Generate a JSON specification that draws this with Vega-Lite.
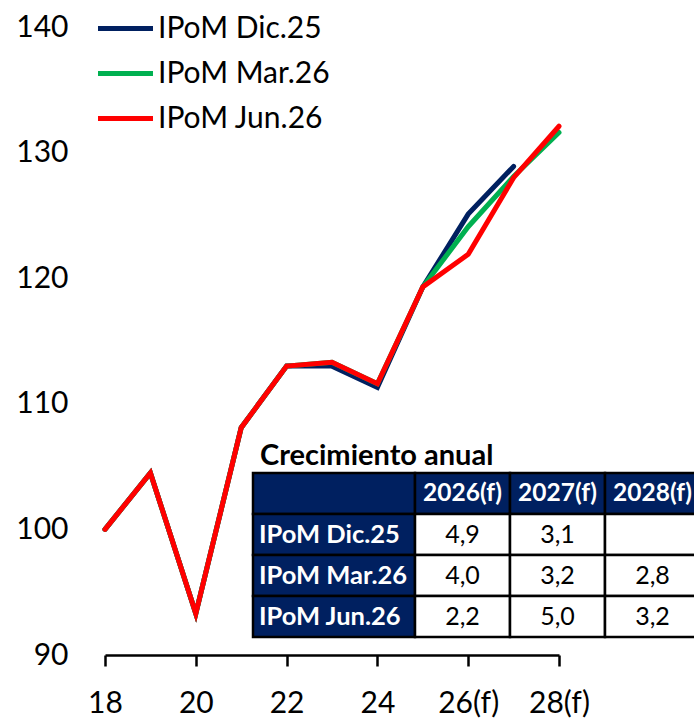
{
  "$schema": "https://vega.github.io/schema/vega-lite/v6.json",
  "autosize": {"type": "none"},
  "padding": {"left": 105, "top": 27, "right": 135, "bottom": 65},
  "width": 454,
  "height": 628,
  "background": "white",
  "config": {
    "view": {"stroke": null},
    "font": "Lato",
    "legend": {
      "orient": "none",
      "legendX": 4,
      "legendY": -15,
      "title": null,
      "labelFontSize": 30,
      "labelFont": "Lato",
      "labelColor": "black",
      "labelLimit": 400,
      "symbolType": "M-2,0H2",
      "symbolSize": 756,
      "symbolStrokeWidth": 5,
      "labelOffset": 16,
      "rowPadding": 13,
      "padding": 0
    }
  },
  "datasets": {
    "series": [
      {"serie": "IPoM Dic.25", "anio": 2018, "valor": 100.0},
      {"serie": "IPoM Dic.25", "anio": 2019, "valor": 104.5},
      {"serie": "IPoM Dic.25", "anio": 2020, "valor": 93.3},
      {"serie": "IPoM Dic.25", "anio": 2021, "valor": 108.1},
      {"serie": "IPoM Dic.25", "anio": 2022, "valor": 113.0},
      {"serie": "IPoM Dic.25", "anio": 2023, "valor": 113.0},
      {"serie": "IPoM Dic.25", "anio": 2024, "valor": 111.3},
      {"serie": "IPoM Dic.25", "anio": 2025, "valor": 119.3},
      {"serie": "IPoM Dic.25", "anio": 2026, "valor": 125.1},
      {"serie": "IPoM Dic.25", "anio": 2027, "valor": 128.9},
      {"serie": "IPoM Mar.26", "anio": 2018, "valor": 100.0},
      {"serie": "IPoM Mar.26", "anio": 2019, "valor": 104.5},
      {"serie": "IPoM Mar.26", "anio": 2020, "valor": 93.3},
      {"serie": "IPoM Mar.26", "anio": 2021, "valor": 108.1},
      {"serie": "IPoM Mar.26", "anio": 2022, "valor": 113.0},
      {"serie": "IPoM Mar.26", "anio": 2023, "valor": 113.3},
      {"serie": "IPoM Mar.26", "anio": 2024, "valor": 111.6},
      {"serie": "IPoM Mar.26", "anio": 2025, "valor": 119.3},
      {"serie": "IPoM Mar.26", "anio": 2026, "valor": 124.1},
      {"serie": "IPoM Mar.26", "anio": 2027, "valor": 128.1},
      {"serie": "IPoM Mar.26", "anio": 2028, "valor": 131.6},
      {"serie": "IPoM Jun.26", "anio": 2018, "valor": 100.0},
      {"serie": "IPoM Jun.26", "anio": 2019, "valor": 104.5},
      {"serie": "IPoM Jun.26", "anio": 2020, "valor": 93.3},
      {"serie": "IPoM Jun.26", "anio": 2021, "valor": 108.1},
      {"serie": "IPoM Jun.26", "anio": 2022, "valor": 113.0},
      {"serie": "IPoM Jun.26", "anio": 2023, "valor": 113.3},
      {"serie": "IPoM Jun.26", "anio": 2024, "valor": 111.6},
      {"serie": "IPoM Jun.26", "anio": 2025, "valor": 119.3},
      {"serie": "IPoM Jun.26", "anio": 2026, "valor": 121.9},
      {"serie": "IPoM Jun.26", "anio": 2027, "valor": 128.0},
      {"serie": "IPoM Jun.26", "anio": 2028, "valor": 132.1}
    ],
    "crec": [
      {"serie": "IPoM Dic.25", "anio": "2026(f)", "valor": "4,9"},
      {"serie": "IPoM Dic.25", "anio": "2027(f)", "valor": "3,1"},
      {"serie": "IPoM Dic.25", "anio": "2028(f)", "valor": ""},
      {"serie": "IPoM Mar.26", "anio": "2026(f)", "valor": "4,0"},
      {"serie": "IPoM Mar.26", "anio": "2027(f)", "valor": "3,2"},
      {"serie": "IPoM Mar.26", "anio": "2028(f)", "valor": "2,8"},
      {"serie": "IPoM Jun.26", "anio": "2026(f)", "valor": "2,2"},
      {"serie": "IPoM Jun.26", "anio": "2027(f)", "valor": "5,0"},
      {"serie": "IPoM Jun.26", "anio": "2028(f)", "valor": "3,2"}
    ]
  },
  "layer": [
    {
      "data": {"name": "series"},
      "encoding": {
        "x": {
          "field": "anio", "type": "quantitative",
          "scale": {"domain": [2018, 2028], "nice": false, "zero": false},
          "axis": {
            "title": null, "grid": false,
            "values": [2018, 2020, 2022, 2024, 2026, 2028],
            "labelExpr": "slice(toString(datum.value), 2) + (datum.value >= 2026 ? '(f)' : '')",
            "domainColor": "black", "domainWidth": 2.5,
            "tickColor": "black", "tickWidth": 2.5, "tickSize": 11,
            "labelFontSize": 30, "labelFont": "Lato", "labelColor": "black",
            "labelPadding": 22, "labelFlush": false, "labelOverlap": false
          }
        },
        "y": {
          "field": "valor", "type": "quantitative",
          "scale": {"domain": [90, 140], "nice": false, "zero": false},
          "axis": {
            "title": null, "grid": false, "domain": false, "ticks": false, "tickSize": 0,
            "values": [90, 100, 110, 120, 130, 140],
            "labelFontSize": 30, "labelFont": "Lato", "labelColor": "black",
            "labelPadding": 37, "labelOverlap": false
          }
        },
        "color": {
          "field": "serie", "type": "nominal",
          "scale": {
            "domain": ["IPoM Dic.25", "IPoM Mar.26", "IPoM Jun.26"],
            "range": ["#002060", "#00B050", "#FF0000"]
          },
          "legend": {}
        }
      },
      "layer": [
        {"transform": [{"filter": "datum.serie === 'IPoM Dic.25'"}], "mark": {"type": "line", "strokeWidth": 5, "strokeCap": "round"}},
        {"transform": [{"filter": "datum.serie === 'IPoM Mar.26'"}], "mark": {"type": "line", "strokeWidth": 5, "strokeCap": "round"}},
        {"transform": [{"filter": "datum.serie === 'IPoM Jun.26'"}], "mark": {"type": "line", "strokeWidth": 5, "strokeCap": "round"}}
      ]
    },
    {
      "data": {"name": "crec"},
      "layer": [
        {
          "transform": [{"aggregate": [{"op": "count", "as": "n"}]}],
          "mark": {"type": "rect", "fill": "#002060", "stroke": "black", "strokeWidth": 2.5},
          "encoding": {
            "x": {"datum": "lab", "type": "nominal", "scale": {"type": "band", "domain": ["lab"], "range": [148, 310], "paddingInner": 0, "paddingOuter": 0}, "axis": null},
            "y": {"datum": "cab", "type": "nominal", "scale": {"type": "band", "domain": ["cab", "IPoM Dic.25", "IPoM Mar.26", "IPoM Jun.26"], "range": [446, 610], "paddingInner": 0, "paddingOuter": 0}, "axis": null}
          }
        },
        {
          "transform": [{"aggregate": [{"op": "count", "as": "n"}], "groupby": ["serie"]}],
          "mark": {"type": "rect", "fill": "#002060", "stroke": "black", "strokeWidth": 2.5},
          "encoding": {
            "x": {"datum": "lab", "type": "nominal", "scale": {"type": "band", "domain": ["lab"], "range": [148, 310], "paddingInner": 0, "paddingOuter": 0}, "axis": null},
            "y": {"field": "serie", "type": "nominal", "scale": {"type": "band", "domain": ["cab", "IPoM Dic.25", "IPoM Mar.26", "IPoM Jun.26"], "range": [446, 610], "paddingInner": 0, "paddingOuter": 0}, "axis": null}
          }
        },
        {
          "transform": [{"aggregate": [{"op": "count", "as": "n"}], "groupby": ["serie"]}],
          "mark": {"type": "text", "align": "left", "baseline": "middle", "dx": 6, "color": "white", "fontWeight": "bold", "fontSize": 25.5, "font": "Lato"},
          "encoding": {
            "x": {"datum": "lab", "type": "nominal", "bandPosition": 0, "scale": {"type": "band", "domain": ["lab"], "range": [148, 310], "paddingInner": 0, "paddingOuter": 0}, "axis": null},
            "y": {"field": "serie", "type": "nominal", "scale": {"type": "band", "domain": ["cab", "IPoM Dic.25", "IPoM Mar.26", "IPoM Jun.26"], "range": [446, 610], "paddingInner": 0, "paddingOuter": 0}, "axis": null},
            "text": {"field": "serie"}
          }
        },
        {
          "transform": [{"aggregate": [{"op": "count", "as": "n"}]}],
          "mark": {"type": "text", "align": "left", "baseline": "alphabetic", "dx": 7, "dy": -8, "color": "black", "fontWeight": "bold", "fontSize": 29, "font": "Lato"},
          "encoding": {
            "x": {"datum": "lab", "type": "nominal", "bandPosition": 0, "scale": {"type": "band", "domain": ["lab"], "range": [148, 310], "paddingInner": 0, "paddingOuter": 0}, "axis": null},
            "y": {"datum": "cab", "type": "nominal", "bandPosition": 0, "scale": {"type": "band", "domain": ["cab", "IPoM Dic.25", "IPoM Mar.26", "IPoM Jun.26"], "range": [446, 610], "paddingInner": 0, "paddingOuter": 0}, "axis": null},
            "text": {"datum": "Crecimiento anual"}
          }
        }
      ]
    },
    {
      "data": {"name": "crec"},
      "layer": [
        {
          "transform": [{"aggregate": [{"op": "count", "as": "n"}], "groupby": ["anio"]}],
          "mark": {"type": "rect", "fill": "#002060", "stroke": "black", "strokeWidth": 2.5},
          "encoding": {
            "x": {"field": "anio", "type": "nominal", "scale": {"type": "band", "domain": ["2026(f)", "2027(f)", "2028(f)"], "range": [310, 595], "paddingInner": 0, "paddingOuter": 0}, "axis": null},
            "y": {"datum": "cab", "type": "nominal", "scale": {"type": "band", "domain": ["cab", "IPoM Dic.25", "IPoM Mar.26", "IPoM Jun.26"], "range": [446, 610], "paddingInner": 0, "paddingOuter": 0}, "axis": null}
          }
        },
        {
          "transform": [{"aggregate": [{"op": "count", "as": "n"}], "groupby": ["anio"]}],
          "mark": {"type": "text", "align": "center", "baseline": "middle", "color": "white", "fontWeight": "bold", "fontSize": 24.5, "font": "Lato"},
          "encoding": {
            "x": {"field": "anio", "type": "nominal", "scale": {"type": "band", "domain": ["2026(f)", "2027(f)", "2028(f)"], "range": [310, 595], "paddingInner": 0, "paddingOuter": 0}, "axis": null},
            "y": {"datum": "cab", "type": "nominal", "scale": {"type": "band", "domain": ["cab", "IPoM Dic.25", "IPoM Mar.26", "IPoM Jun.26"], "range": [446, 610], "paddingInner": 0, "paddingOuter": 0}, "axis": null},
            "text": {"field": "anio"}
          }
        },
        {
          "mark": {"type": "rect", "fill": "white", "stroke": "black", "strokeWidth": 2.5},
          "encoding": {
            "x": {"field": "anio", "type": "nominal", "scale": {"type": "band", "domain": ["2026(f)", "2027(f)", "2028(f)"], "range": [310, 595], "paddingInner": 0, "paddingOuter": 0}, "axis": null},
            "y": {"field": "serie", "type": "nominal", "scale": {"type": "band", "domain": ["cab", "IPoM Dic.25", "IPoM Mar.26", "IPoM Jun.26"], "range": [446, 610], "paddingInner": 0, "paddingOuter": 0}, "axis": null}
          }
        },
        {
          "mark": {"type": "text", "align": "center", "baseline": "middle", "color": "black", "fontSize": 25, "font": "Lato"},
          "encoding": {
            "x": {"field": "anio", "type": "nominal", "scale": {"type": "band", "domain": ["2026(f)", "2027(f)", "2028(f)"], "range": [310, 595], "paddingInner": 0, "paddingOuter": 0}, "axis": null},
            "y": {"field": "serie", "type": "nominal", "scale": {"type": "band", "domain": ["cab", "IPoM Dic.25", "IPoM Mar.26", "IPoM Jun.26"], "range": [446, 610], "paddingInner": 0, "paddingOuter": 0}, "axis": null},
            "text": {"field": "valor"}
          }
        }
      ]
    }
  ],
  "resolve": {"scale": {"x": "independent", "y": "independent"}}
}
